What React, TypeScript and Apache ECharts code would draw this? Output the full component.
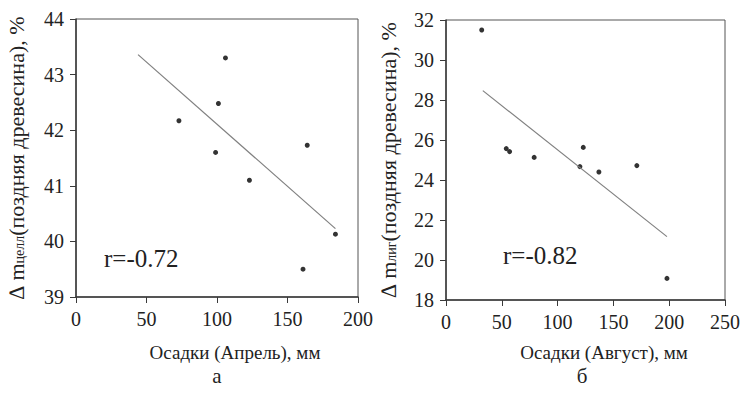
import React, { useEffect, useRef } from "react";
import * as echarts from "echarts";

// Panel а: precipitation (April) vs Δm cellulose
const aprilX = [73, 106, 101, 99, 123, 164, 184, 161];
const cellY = [42.17, 43.3, 42.48, 41.6, 41.1, 41.73, 40.13, 39.5];
const aprilTrendX = [44, 184];
const aprilTrendY = [43.36, 40.23];

// Panel б: precipitation (August) vs Δm lignin
const augustX = [32, 54, 57, 79, 120, 123, 137, 171, 198];
const ligY = [31.5, 25.57, 25.42, 25.13, 24.67, 25.63, 24.4, 24.72, 19.08];
const augustTrendX = [33, 198];
const augustTrendY = [28.47, 21.17];

const xTitles = ["Осадки (Апрель), мм", "Осадки (Август), мм"];
const subs = ["целл", "лиг"];
const rLabels = ["r=-0.72", "r=-0.82"];
const panelLetters = ["а", "б"];

const FONT = "'Liberation Serif', 'Times New Roman', 'DejaVu Serif', serif";

export default function App() {
  const ref = useRef<HTMLDivElement>(null);
  useEffect(() => {
    if (!ref.current) return;
    const chart = echarts.init(ref.current, null, { renderer: "svg" });
    const grids = [
      { left: 76, top: 19, width: 282, height: 278 },
      { left: 446, top: 20, width: 281, height: 280 },
    ];
    const xRanges = [
      { min: 0, max: 200, interval: 50 },
      { min: 0, max: 250, interval: 50 },
    ];
    const yRanges = [
      { min: 39, max: 44, interval: 1 },
      { min: 18, max: 32, interval: 2 },
    ];
    const axisCommon = {
      axisLine: { show: true, onZero: false, lineStyle: { color: "#3a3a3a", width: 1.5 } },
      axisTick: { show: true, inside: false, length: 6, lineStyle: { color: "#3a3a3a", width: 1 } },
      splitLine: { show: false },
    };
    const option: any = {
      animation: false,
      backgroundColor: "#ffffff",
      grid: grids.map((g) => ({ ...g, show: true, borderColor: "#555", borderWidth: 1, containLabel: false })),
      xAxis: xRanges.map((r, i) => ({
        type: "value",
        gridIndex: i,
        ...r,
        ...axisCommon,
        axisLabel: { fontFamily: FONT, fontSize: 20, color: "#222", margin: 12 },
      })),
      yAxis: yRanges.map((r, i) => ({
        type: "value",
        gridIndex: i,
        ...r,
        ...axisCommon,
        axisLabel: { fontFamily: FONT, fontSize: 20, color: "#222", margin: 12 },
        name: `{a|∆ m}{s|${subs[i]}}{a|(поздняя древесина), %}`,
        nameLocation: "middle",
        nameRotate: 90,
        nameGap: i === 0 ? 49 : 47,
        nameTextStyle: {
          rich: {
            a: { fontFamily: FONT, fontSize: 22, color: "#222" },
            s: { fontFamily: FONT, fontSize: 14, color: "#222", padding: [6, 0, 0, 0] },
          },
        },
      })),
      series: [
        {
          type: "line",
          xAxisIndex: 0,
          yAxisIndex: 0,
          data: aprilTrendX.map((x, k) => [x, aprilTrendY[k]]),
          showSymbol: false,
          lineStyle: { color: "#808080", width: 1.2 },
          silent: true,
        },
        {
          type: "scatter",
          xAxisIndex: 0,
          yAxisIndex: 0,
          data: aprilX.map((x, k) => [x, cellY[k]]),
          symbolSize: 5,
          itemStyle: { color: "#000" },
        },
        {
          type: "line",
          xAxisIndex: 1,
          yAxisIndex: 1,
          data: augustTrendX.map((x, k) => [x, augustTrendY[k]]),
          showSymbol: false,
          lineStyle: { color: "#808080", width: 1.2 },
          silent: true,
        },
        {
          type: "scatter",
          xAxisIndex: 1,
          yAxisIndex: 1,
          data: augustX.map((x, k) => [x, ligY[k]]),
          symbolSize: 5,
          itemStyle: { color: "#000" },
        },
      ],
      graphic: [
        { type: "text", left: 104, top: 246, style: { text: rLabels[0], fontFamily: FONT, fontSize: 25, fill: "#222" } },
        { type: "text", left: 503, top: 243, style: { text: rLabels[1], fontFamily: FONT, fontSize: 25, fill: "#222" } },
        { type: "text", x: 235, y: 352, style: { text: xTitles[0], fontFamily: FONT, fontSize: 19, fill: "#222", align: "center", verticalAlign: "middle" } },
        { type: "text", x: 604, y: 352, style: { text: xTitles[1], fontFamily: FONT, fontSize: 19, fill: "#222", align: "center", verticalAlign: "middle" } },
        { type: "text", x: 217, y: 376, style: { text: panelLetters[0], fontFamily: FONT, fontSize: 21, fill: "#222", align: "center", verticalAlign: "middle" } },
        { type: "text", x: 582, y: 376, style: { text: panelLetters[1], fontFamily: FONT, fontSize: 21, fill: "#222", align: "center", verticalAlign: "middle" } },
      ],
    };
    chart.setOption(option);
    return () => chart.dispose();
  }, []);
  return <div ref={ref} style={{ width: 743, height: 396, position: "absolute", left: 0, top: 0 }} />;
}
